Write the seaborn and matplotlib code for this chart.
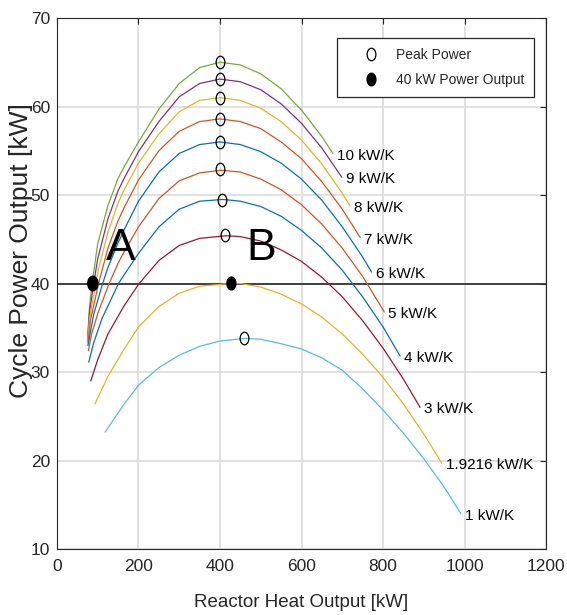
import pandas as pd
import seaborn as sns
import matplotlib.pyplot as plt
from matplotlib.path import Path
from matplotlib.lines import Line2D

# curves: reactor heat output [kW] vs cycle power output [kW]
q_10 = [75, 80, 86, 100, 125, 150, 165, 200, 250, 300, 350, 400, 450, 500, 550, 600, 650, 677]
p_10 = [33.8, 37.5, 40.0, 44.5, 48.8, 51.9, 53.2, 56.0, 59.7, 62.6, 64.4, 65.0, 64.7, 63.7, 62.0, 59.6, 56.6, 54.7]

q_9 = [75, 80, 90, 100, 125, 150, 165, 200, 250, 300, 350, 400, 450, 500, 550, 600, 650, 699]
p_9 = [33.6, 36.8, 40.0, 42.8, 47.3, 50.5, 51.9, 54.9, 58.3, 61.1, 62.6, 63.1, 62.8, 61.9, 60.3, 58.1, 55.3, 52.0]

q_8 = [75, 80, 95, 100, 125, 150, 165, 200, 250, 300, 350, 400, 450, 500, 550, 600, 650, 700, 719]
p_8 = [33.5, 36.0, 40.0, 41.3, 45.8, 49.1, 50.6, 53.6, 56.9, 59.4, 60.7, 61.0, 60.7, 59.8, 58.3, 56.2, 53.5, 50.2, 48.8]

q_7 = [76, 82, 102, 125, 150, 165, 200, 250, 300, 350, 400, 450, 500, 550, 600, 650, 700, 744]
p_7 = [33.3, 35.8, 40.0, 44.0, 47.1, 48.6, 51.7, 55.0, 57.2, 58.3, 58.6, 58.3, 57.5, 56.0, 54.1, 51.5, 48.4, 45.2]

q_6 = [76, 90, 112, 125, 150, 165, 200, 250, 300, 350, 400, 450, 500, 550, 600, 650, 700, 750, 772]
p_6 = [33.0, 36.5, 40.0, 41.8, 44.6, 46.1, 49.3, 52.6, 54.7, 55.7, 56.0, 55.7, 54.9, 53.6, 51.8, 49.4, 46.4, 43.0, 41.3]

q_5 = [77, 85, 100, 128, 150, 165, 200, 250, 300, 350, 402, 450, 500, 550, 600, 650, 700, 750, 803]
p_5 = [32.4, 34.3, 36.6, 40.0, 42.3, 43.6, 46.4, 49.6, 51.6, 52.5, 52.8, 52.6, 51.8, 50.6, 48.9, 46.7, 44.0, 40.8, 36.8]

q_4 = [78, 90, 110, 151, 165, 200, 250, 300, 350, 407, 450, 500, 550, 600, 650, 700, 750, 800, 842]
p_4 = [31.1, 33.3, 36.0, 40.0, 41.0, 43.4, 46.4, 48.4, 49.3, 49.5, 49.3, 48.7, 47.6, 46.0, 44.0, 41.5, 38.5, 35.1, 31.8]

q_3 = [83, 100, 125, 165, 200, 250, 300, 350, 415, 450, 500, 550, 600, 650, 700, 750, 800, 850, 891]
p_3 = [29.0, 31.4, 34.3, 37.5, 39.9, 42.6, 44.3, 45.1, 45.4, 45.3, 44.8, 43.8, 42.5, 40.7, 38.5, 35.8, 32.7, 29.2, 26.0]

q_19 = [93, 125, 165, 200, 250, 300, 350, 425, 450, 500, 550, 600, 650, 700, 750, 800, 850, 900, 944]
p_19 = [26.4, 29.5, 32.6, 35.1, 37.4, 38.9, 39.7, 40.0, 40.0, 39.6, 38.8, 37.7, 36.2, 34.3, 32.0, 29.4, 26.4, 23.0, 19.7]

q_1 = [118, 165, 200, 250, 300, 350, 400, 461, 500, 550, 600, 650, 700, 750, 800, 850, 900, 950, 991]
p_1 = [23.2, 26.4, 28.5, 30.5, 31.9, 32.9, 33.5, 33.8, 33.7, 33.2, 32.6, 31.6, 30.2, 28.1, 25.7, 23.1, 20.2, 17.0, 14.0]

curve_names = ["10 kW/K", "9 kW/K", "8 kW/K", "7 kW/K", "6 kW/K", "5 kW/K",
               "4 kW/K", "3 kW/K", "1.9216 kW/K", "1 kW/K"]
curve_q = [q_10, q_9, q_8, q_7, q_6, q_5, q_4, q_3, q_19, q_1]
curve_p = [p_10, p_9, p_8, p_7, p_6, p_5, p_4, p_3, p_19, p_1]
curve_colors = ["#77AC30", "#7E2F8E", "#EDB120", "#D95319", "#0072BD", "#D95319",
                "#0072BD", "#A2142F", "#EDB120", "#4DBEEE"]

# peak power markers and the 40 kW operating points (A, B)
peak_q = [399, 399, 399, 399, 399, 401, 405, 413, 460]
peak_p = [65.0, 63.1, 61.0, 58.6, 56.0, 52.9, 49.4, 45.5, 33.8]
target_q = [88, 428]
target_p = [40, 40]

df = pd.concat(
    [pd.DataFrame({"q": q, "p": p, "curve": n}) for n, q, p in zip(curve_names, curve_q, curve_p)],
    ignore_index=True,
)

sns.set_theme(style="white")
plt.rcParams["font.family"] = ["Liberation Sans", "DejaVu Sans"]
txt = "#262626"

fig = plt.figure(figsize=(5.67, 6.15), dpi=100)
ax = fig.add_axes([0.1005, 0.1073, 0.8625, 0.8634])

ax.grid(True, color="#dcdcdc", lw=1.2)
ax.set_axisbelow(True)
ax.axhline(40, color="#333333", lw=1.3, zorder=1.5)

sns.lineplot(data=df, x="q", y="p", hue="curve", palette=dict(zip(curve_names, curve_colors)),
             sort=False, estimator=None, legend=False, lw=0.9, ax=ax)

# MATLAB-looking tall circles
circ = Path.unit_circle()
oval = Path(circ.vertices * [0.7, 1.0], circ.codes)

ax.plot(peak_q, peak_p, ls="none", marker=oval, ms=9, mfc="none", mec="black", mew=0.9, zorder=4)
ax.scatter(target_q, target_p, s=[110, 85], marker=oval, c="black", zorder=5)

for name, q, p in zip(curve_names, curve_q, curve_p):
    ax.annotate(name, (q[-1], p[-1]), xytext=(3, -1.5), textcoords="offset points",
                ha="left", va="center", fontsize=11, color="black")

ax.text(157, 44, "A", fontsize=32, ha="center", va="center", color="black")
ax.text(502, 44, "B", fontsize=32, ha="center", va="center", color="black")

ax.set_xlim(0, 1200)
ax.set_ylim(10, 70)
ax.set_xticks(range(0, 1201, 200))
ax.set_yticks(range(10, 71, 10))
ax.tick_params(direction="in", top=True, right=True, length=4, width=0.8,
               colors=txt, labelsize=12.5)
ax.tick_params(axis="x", pad=7)
ax.tick_params(axis="y", pad=5)
for s in ax.spines.values():
    s.set_color(txt)
    s.set_linewidth(0.8)

ax.set_xlabel("Reactor Heat Output [kW]", fontsize=13.5, color=txt)
ax.set_ylabel("Cycle Power Output [kW]", fontsize=19, color=txt)
ax.xaxis.set_label_coords(0.5, -0.085)
ax.yaxis.set_label_coords(-0.05, 0.563)

handles = [
    Line2D([], [], ls="none", marker=oval, ms=9, mfc="none", mec="black", mew=0.9),
    Line2D([], [], ls="none", marker=oval, ms=9, mfc="black", mec="black"),
]
leg = ax.legend(handles, ["Peak Power", "40 kW Power Output"], loc="upper right",
                bbox_to_anchor=(0.975, 0.962), borderaxespad=0, fontsize=10,
                fancybox=False, framealpha=1, edgecolor="#262626",
                borderpad=0.7, handlelength=3.6, handletextpad=-0.05, labelspacing=0.8)
leg.get_frame().set_linewidth(0.9)

fig.savefig("out.png", dpi=100)
